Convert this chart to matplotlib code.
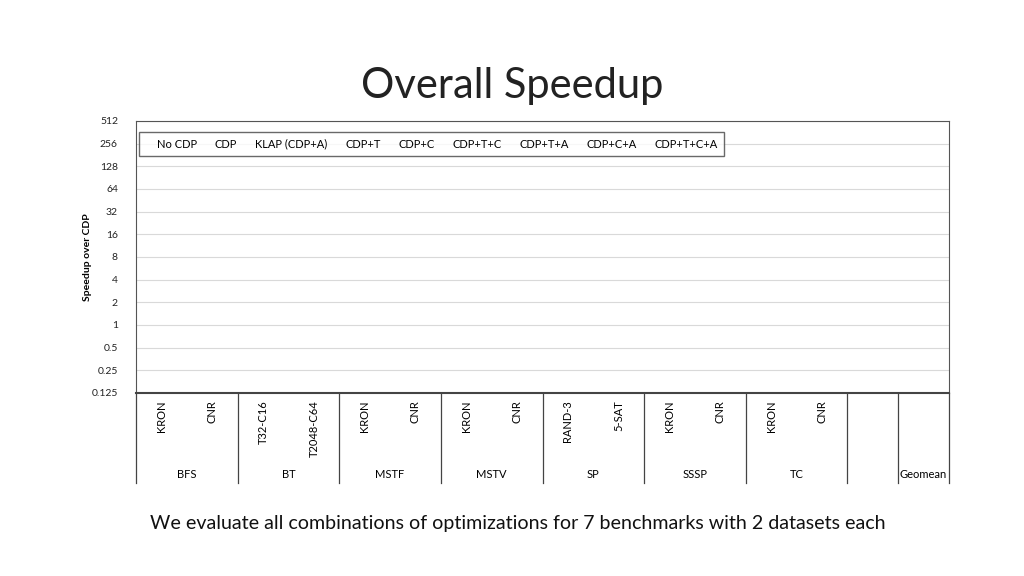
import numpy as np
import matplotlib.pyplot as plt
from matplotlib.patches import Patch
from matplotlib.ticker import FixedLocator, FixedFormatter

plt.rcParams['font.family'] = ['Lato', 'DejaVu Sans']

# benchmarks and their datasets (x slots), last group is geomean
benchmarks = ['BFS', 'BT', 'MSTF', 'MSTV', 'SP', 'SSSP', 'TC']
datasets = [['KRON', 'CNR'], ['T32-C16', 'T2048-C64'], ['KRON', 'CNR'], ['KRON', 'CNR'],
            ['RAND-3', '5-SAT'], ['KRON', 'CNR'], ['KRON', 'CNR']]
series = ['No CDP', 'CDP', 'KLAP (CDP+A)', 'CDP+T', 'CDP+C', 'CDP+T+C', 'CDP+T+A', 'CDP+C+A', 'CDP+T+C+A']
yticks = [0.125, 0.25, 0.5, 1, 2, 4, 8, 16, 32, 64, 128, 256, 512]
ytick_labels = ['0.125', '0.25', '0.5', '1', '2', '4', '8', '16', '32', '64', '128', '256', '512']

fig = plt.figure(figsize=(10.24, 5.76), dpi=100)
ax = fig.add_axes([136/1024, 1-393/576, 813/1024, 272/576])

n_slots = sum(len(d) for d in datasets) + 2  # blank slot + geomean
ax.set_xlim(-0.5, n_slots - 0.5)
ax.set_yscale('log', base=2)
ax.set_ylim(0.125, 512)
ax.yaxis.set_major_locator(FixedLocator(yticks))
ax.yaxis.set_major_formatter(FixedFormatter(ytick_labels))
ax.yaxis.set_minor_locator(FixedLocator([]))
ax.tick_params(axis='y', length=0, labelsize=7.5, pad=13, colors='#222222')
ax.set_xticks([])
for t in yticks[1:]:
    ax.axhline(t, color='#d9d9d9', lw=0.8, zorder=0)

for s in ['top', 'right']:
    ax.spines[s].set_color('#555555')
    ax.spines[s].set_linewidth(0.8)
ax.spines['left'].set_color('#555555')
ax.spines['left'].set_linewidth(0.8)
ax.spines['bottom'].set_color('#444444')
ax.spines['bottom'].set_linewidth(1.5)

ax.set_ylabel('Speedup over CDP', fontsize=7.5, fontweight='bold', labelpad=0)

# category labels below the axis
tr = ax.get_xaxis_transform()
pos = 0
bounds = [-0.5]
for bench, ds in zip(benchmarks, datasets):
    for d in ds:
        ax.text(pos, -0.026, d, rotation=90, ha='center', va='top', fontsize=8,
                transform=tr, clip_on=False)
        pos += 1
    ax.text(pos - 1.5, -0.30, bench, ha='center', va='center', fontsize=8, transform=tr)
    bounds.append(pos - 0.5)
pos += 1
bounds.append(pos - 0.5)
ax.text(pos, -0.30, 'Geomean', ha='center', va='center', fontsize=8, transform=tr)
bounds.append(pos + 0.5)
for b in bounds:
    ax.plot([b, b], [0, -0.331], color='#444444', lw=0.9, transform=tr, clip_on=False)

handles = [Patch(facecolor='none', edgecolor='none', label=s) for s in series]
leg = ax.legend(handles=handles, loc='upper left', bbox_to_anchor=(0.004, 0.96), ncol=9,
                fontsize=8, frameon=True, fancybox=False, borderaxespad=0,
                handlelength=0.7, handletextpad=0.3, columnspacing=0.6, borderpad=0.6)
leg.get_frame().set_edgecolor('#444444')
leg.get_frame().set_linewidth(1.0)

fig.text(0.5, 1-86/576, 'Overall Speedup', ha='center', va='center', fontsize=30,
         color='#222222')
fig.text(518/1024, 1-523/576, 'We evaluate all combinations of optimizations for 7 benchmarks with 2 datasets each',
         ha='center', va='center', fontsize=14.15, color='#111111')

fig.savefig('out.png', dpi=100)
